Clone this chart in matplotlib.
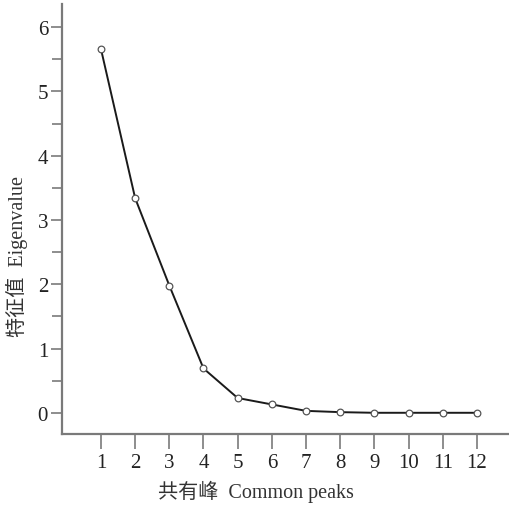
import numpy as np
import matplotlib.pyplot as plt

# scree plot data
peaks = [1, 2, 3, 4, 5, 6, 7, 8, 9, 10, 11, 12]
eigenvalues = [5.66, 3.34, 1.98, 0.69, 0.23, 0.13, 0.03, 0.01, 0.0, 0.0, 0.0, 0.0]
y_ticks = [0, 1, 2, 3, 4, 5, 6]

plt.rcParams['font.family'] = ['Liberation Serif', 'Noto Sans CJK SC']
axis_grey = '#7a7a7a'

fig = plt.figure(figsize=(5.09, 5.06), dpi=100)
ax = fig.add_axes([62 / 509, (506 - 435) / 506, (509 - 62) / 509, (435 - 5) / 506])

ax.plot(peaks, eigenvalues, color='#1a1a1a', linewidth=1.4, marker='o',
        markersize=4.8, markerfacecolor='white', markeredgecolor='#555555',
        markeredgewidth=0.9)

ax.set_xlim(-0.14, 12.94)
ax.set_ylim(-0.33, 6.36)

ax.set_xticks(peaks)
ax.set_yticks(y_ticks)
ax.set_yticks(np.arange(0.5, 6, 1), minor=True)

for side in ['top', 'right']:
    ax.spines[side].set_visible(False)
for side in ['left', 'bottom']:
    ax.spines[side].set_color(axis_grey)
    ax.spines[side].set_linewidth(1.6)

ax.tick_params(axis='y', which='major', length=8, width=1.2, color=axis_grey,
               labelsize=15, labelcolor='#222222', pad=2)
ax.tick_params(axis='y', which='minor', length=7, width=1.2, color=axis_grey)
ax.tick_params(axis='x', length=11, width=1.2, color=axis_grey,
               labelsize=15, labelcolor='#222222', pad=3)

ax.set_xlabel('共有峰  Common peaks', fontsize=14.5, color='#333333')
ax.set_ylabel('特征值  Eigenvalue', fontsize=14.5, color='#333333')
ax.xaxis.set_label_coords(0.434, -0.106)
ax.yaxis.set_label_coords(-0.077, 0.416)

fig.savefig('out.png', dpi=100)
